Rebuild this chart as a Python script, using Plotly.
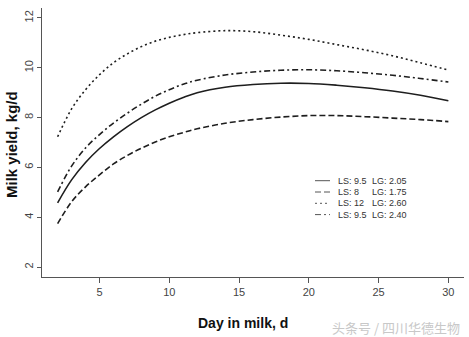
import plotly.graph_objects as go

# Days in milk sampled along each lactation curve
days = [2, 3, 4, 5, 6, 7, 8, 9, 10, 11, 12, 14, 16, 18, 20, 22, 24, 26, 28, 30]

# Milk yield (kg/d) for each LS / LG combination
yield_ls95_lg205 = [4.58, 5.50, 6.20, 6.76, 7.23, 7.64, 8.00, 8.31, 8.58, 8.81, 9.00,
                    9.22, 9.33, 9.38, 9.37, 9.30, 9.20, 9.07, 8.90, 8.68]
yield_ls8_lg175 = [3.74, 4.62, 5.22, 5.70, 6.14, 6.48, 6.77, 7.02, 7.23, 7.40, 7.55,
                   7.77, 7.92, 8.02, 8.08, 8.08, 8.04, 7.98, 7.92, 7.84]
yield_ls12_lg260 = [7.23, 8.35, 9.12, 9.72, 10.20, 10.56, 10.85, 11.07, 11.22, 11.33, 11.41,
                    11.49, 11.45, 11.31, 11.14, 10.93, 10.72, 10.48, 10.20, 9.91]
yield_ls95_lg240 = [5.02, 6.05, 6.78, 7.32, 7.78, 8.18, 8.54, 8.86, 9.12, 9.34, 9.50,
                    9.71, 9.83, 9.90, 9.92, 9.88, 9.80, 9.70, 9.57, 9.43]

series = [
    ("LS: 9.5", "LG: 2.05", yield_ls95_lg205, "solid"),
    ("LS: 8", "LG: 1.75", yield_ls8_lg175, "6px,3px"),
    ("LS: 12", "LG: 2.60", yield_ls12_lg260, "2px,3px"),
    ("LS: 9.5", "LG: 2.40", yield_ls95_lg240, "6px,3px,2px,3px"),
]

x_ticks = [5, 10, 15, 20, 25, 30]
y_ticks = [2, 4, 6, 8, 10, 12]

line_color = "#1e1e1e"
axis_color = "#555555"
font_family = "Liberation Sans, Arial, sans-serif"

fig = go.Figure()
for ls, lg, values, dash in series:
    fig.add_trace(go.Scatter(
        x=days, y=values, mode="lines",
        line=dict(color=line_color, width=1.6, dash=dash, shape="spline", smoothing=1.0),
        name=f"{ls} {lg}", showlegend=False,
    ))

# Hand-built legend inside the plot (line samples + two text columns)
L, R, T, B = 42, 464, 8, 277
def px(xp):
    return (xp - L) / (R - L)
def py(yp):
    return (B - yp) / (B - T)

row_y = [180.7, 192.0, 203.3, 214.6]
for (ls, lg, _, dash), yy in zip(series, row_y):
    fig.add_shape(type="line", xref="paper", yref="paper",
                  x0=px(315), x1=px(330), y0=py(yy), y1=py(yy),
                  line=dict(color="#555555", width=1, dash=dash))
    fig.add_annotation(x=px(336), y=py(yy), xref="paper", yref="paper", text=ls,
                       showarrow=False, xanchor="left", yanchor="middle",
                       font=dict(family=font_family, size=9, color="#333333"))
    fig.add_annotation(x=px(370), y=py(yy), xref="paper", yref="paper", text=lg,
                       showarrow=False, xanchor="left", yanchor="middle",
                       font=dict(family=font_family, size=9, color="#333333"))

# Axis titles
fig.add_annotation(x=px(243), y=py(323), xref="paper", yref="paper", text="<b>Day in milk, d</b>",
                   showarrow=False, xanchor="center", yanchor="middle",
                   font=dict(family=font_family, size=14, color="#111111"))
fig.add_annotation(x=px(11), y=py(145), xref="paper", yref="paper", text="<b>Milk yield, kg/d</b>",
                   showarrow=False, xanchor="center", yanchor="middle", textangle=-90,
                   font=dict(family=font_family, size=15, color="#111111"))

# Source watermark
fig.add_annotation(x=px(462), y=py(327), xref="paper", yref="paper", text="头条号 / 四川华德生物",
                   showarrow=False, xanchor="right", yanchor="middle",
                   font=dict(family="Noto Sans CJK SC", size=13, color="#c8c8c8"))

fig.update_layout(
    width=469, height=337,
    margin=dict(l=L, r=469 - R, t=T, b=337 - B),
    paper_bgcolor="white", plot_bgcolor="white",
    font=dict(family=font_family),
    xaxis=dict(range=[0.88, 31.12], tickvals=x_ticks, ticks="outside", ticklen=5,
               tickcolor=axis_color, showline=True, linecolor=axis_color, linewidth=1,
               showgrid=False, zeroline=False,
               tickfont=dict(size=11, color="#444444")),
    yaxis=dict(range=[1.6, 12.4], tickvals=y_ticks, ticks="outside", ticklen=4,
               tickcolor=axis_color, showline=True, linecolor=axis_color, linewidth=1,
               showgrid=False, zeroline=False, tickangle=-90,
               tickfont=dict(size=11, color="#444444")),
)

fig.write_html("out.html")
